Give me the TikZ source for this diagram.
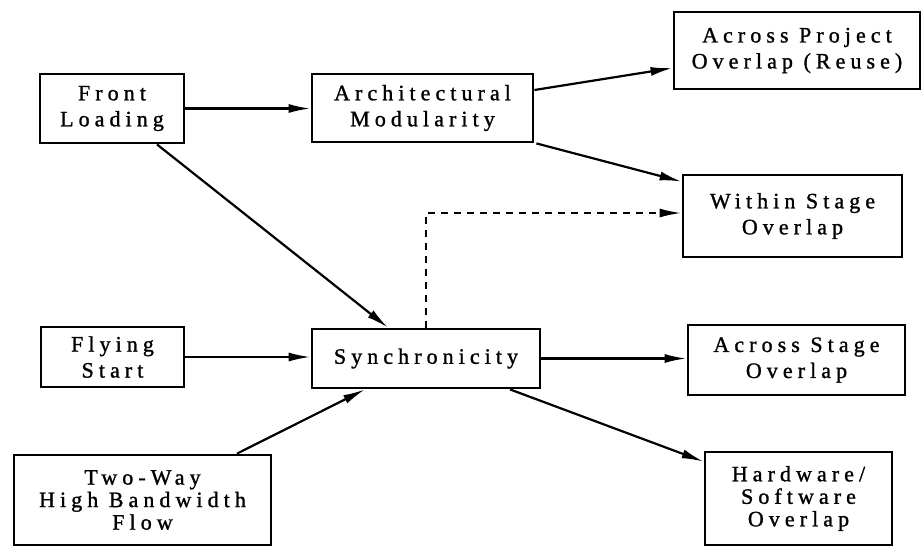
\documentclass[tikz,border=0pt]{standalone}
\usepackage{fontspec}
\setmainfont{Liberation Serif}[LetterSpace=23,FakeBold=1.2]
\usetikzlibrary{arrows.meta}
\begin{document}
\begin{tikzpicture}[x=1pt,y=-1pt,
  box/.style={draw,line width=2.8pt,inner sep=0pt,align=center,
    font=\fontsize{22}{26}\selectfont},
  tallbox/.style={box,font=\fontsize{22}{22.5}\selectfont},
  link/.style={line width=2.2pt,-{Latex[length=22pt,width=9pt]}},
  hint/.style={link,dashed,dash pattern=on 7pt off 6pt}]
\useasboundingbox (0,0) rectangle (923,547);
% boxes
\node[box,minimum width=144pt,minimum height=69pt] (fl) at (112,108.5) {Front\\Loading};
\node[box,minimum width=221pt,minimum height=68pt] (am) at (422.5,108) {Architectural\\Modularity};
\node[box,minimum width=246pt,minimum height=77pt] (ap) at (797,50.5) {Across Project\\Overlap (Reuse)};
\node[box,minimum width=219pt,minimum height=82pt] (ws) at (792.5,216) {Within Stage\\Overlap};
\node[box,minimum width=143pt,minimum height=60pt] (fs) at (112.5,357) {Flying\\Start};
\node[box,minimum width=228pt,minimum height=59pt] (sy) at (426,358.5) {Synchronicity};
\node[tallbox,minimum width=257pt,minimum height=90pt] (tw) at (142.5,500) {Two-Way\\High Bandwidth\\Flow};
\node[box,minimum width=217pt,minimum height=70pt] (as) at (796.5,360) {Across Stage\\Overlap};
\node[tallbox,minimum width=187pt,minimum height=93pt] (hw) at (798.5,498.5) {Hardware/\\Software\\Overlap};
% connectors
\draw[link] (fl.east) -- (fl.east -| am.west);
\draw[link] ([yshift=18pt]am.east) -- ([yshift=-17.5pt]ap.west);
\draw[link] ([xshift=2pt]am.south east) -- ([yshift=-8pt]ws.north west);
\draw[link] ([xshift=45pt]fl.south) -- ([xshift=-38pt]sy.north);
\draw[hint] (sy.north) |- ([yshift=3pt]ws.west);
\draw[link] (fs.east) -- (fs.east -| sy.west);
\draw[link] ([xshift=94.5pt]tw.north) -- ([xshift=-61pt]sy.south);
\draw[link] (sy.east) -- (sy.east -| as.west);
\draw[link] ([xshift=84pt]sy.south) -- ([yshift=-11pt]hw.north west);
\end{tikzpicture}
\end{document}
